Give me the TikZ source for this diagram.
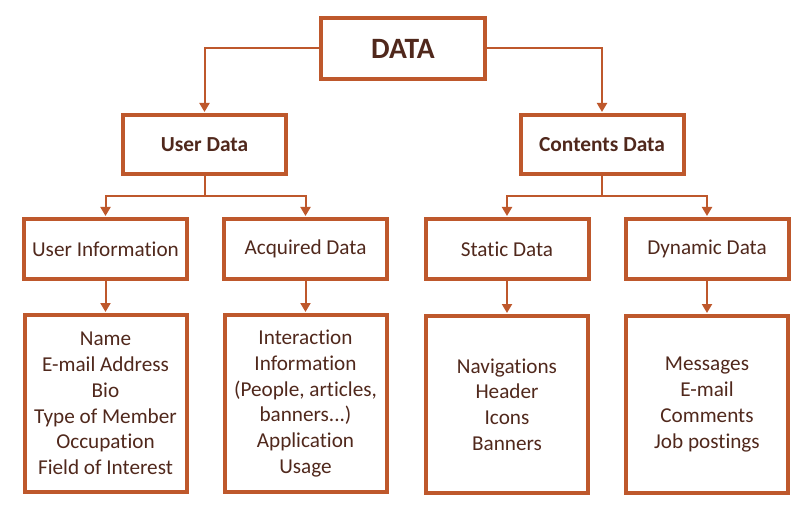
\documentclass[tikz,border=0pt]{standalone}
\usepackage{fontspec}
\setmainfont{Carlito}[Ligatures=NoCommon]
\usetikzlibrary{arrows.meta,calc}
\definecolor{bord}{RGB}{190,88,44}
\definecolor{txt}{RGB}{80,40,28}
\tikzset{
  box/.style={draw=bord, line width=4pt, rectangle, align=center, text=txt, inner sep=0pt},
  topbox/.style={box, minimum width=164pt, minimum height=61pt, font=\bfseries\fontsize{29.5}{34}\selectfont},
  midbox/.style={box, minimum width=163pt, minimum height=59pt, font=\bfseries\fontsize{21.4}{26}\selectfont},
  subbox/.style={box, minimum width=163pt, minimum height=60pt, font=\fontsize{21.2}{26}\selectfont},
  listbox/.style={box, minimum width=162pt, minimum height=177pt, font=\fontsize{21.2}{25.7}\selectfont},
  conn/.style={draw=bord, line width=2pt},
  arr/.style={conn, -{Triangle[width=10pt,length=9pt]}},
}
\begin{document}
\begin{tikzpicture}[x=1pt,y=-1pt]
\useasboundingbox (0,0) rectangle (812,516);
\node[topbox] (data) at (403,48.5) {DATA};
\node[midbox] (ud) at (204.5,144.5) {User Data};
\node[midbox] (cd) at (602,144.5) {Contents Data};
\node[subbox] (ui) at (105.5,249) {User Information};
\node[subbox] (ad) at (305.5,249) {Acquired Data};
\node[subbox] (sd) at (507,249) {Static Data};
\node[subbox] (dd) at (707,249) {Dynamic Data};
\node[listbox] (uil) at (105.5,403.5) {Name\\E-mail Address\\Bio\\Type of Member\\Occupation\\Field of Interest};
\node[listbox] (adl) at (305.5,403.5) {Interaction\\Information\\(People, articles,\\banners...)\\Application\\Usage};
\node[listbox] (sdl) at (507,404.5) {Navigations\\Header\\Icons\\Banners};
\node[listbox] (ddl) at (707,404.5) {Messages\\E-mail\\Comments\\Job postings};
\coordinate (udj) at (204.5,196);
\coordinate (cdj) at (602,196);
\draw[arr] (data.west) -| ($(ud.north)+(0,-1)$);
\draw[arr] (data.east) -| ($(cd.north)+(0,-1)$);
\draw[conn] (ud.south) -- (udj);
\draw[conn] (cd.south) -- (cdj);
\draw[arr] (udj) -| ($(ui.north)+(0,-1)$);
\draw[arr] (udj) -| ($(ad.north)+(0,-1)$);
\draw[arr] (cdj) -| ($(sd.north)+(0,-1)$);
\draw[arr] (cdj) -| ($(dd.north)+(0,-1)$);
\draw[arr] (ui.south) -- ($(uil.north)+(0,-1)$);
\draw[arr] (ad.south) -- ($(adl.north)+(0,-1)$);
\draw[arr] (sd.south) -- ($(sdl.north)+(0,-1)$);
\draw[arr] (dd.south) -- ($(ddl.north)+(0,-1)$);
\end{tikzpicture}
\end{document}
